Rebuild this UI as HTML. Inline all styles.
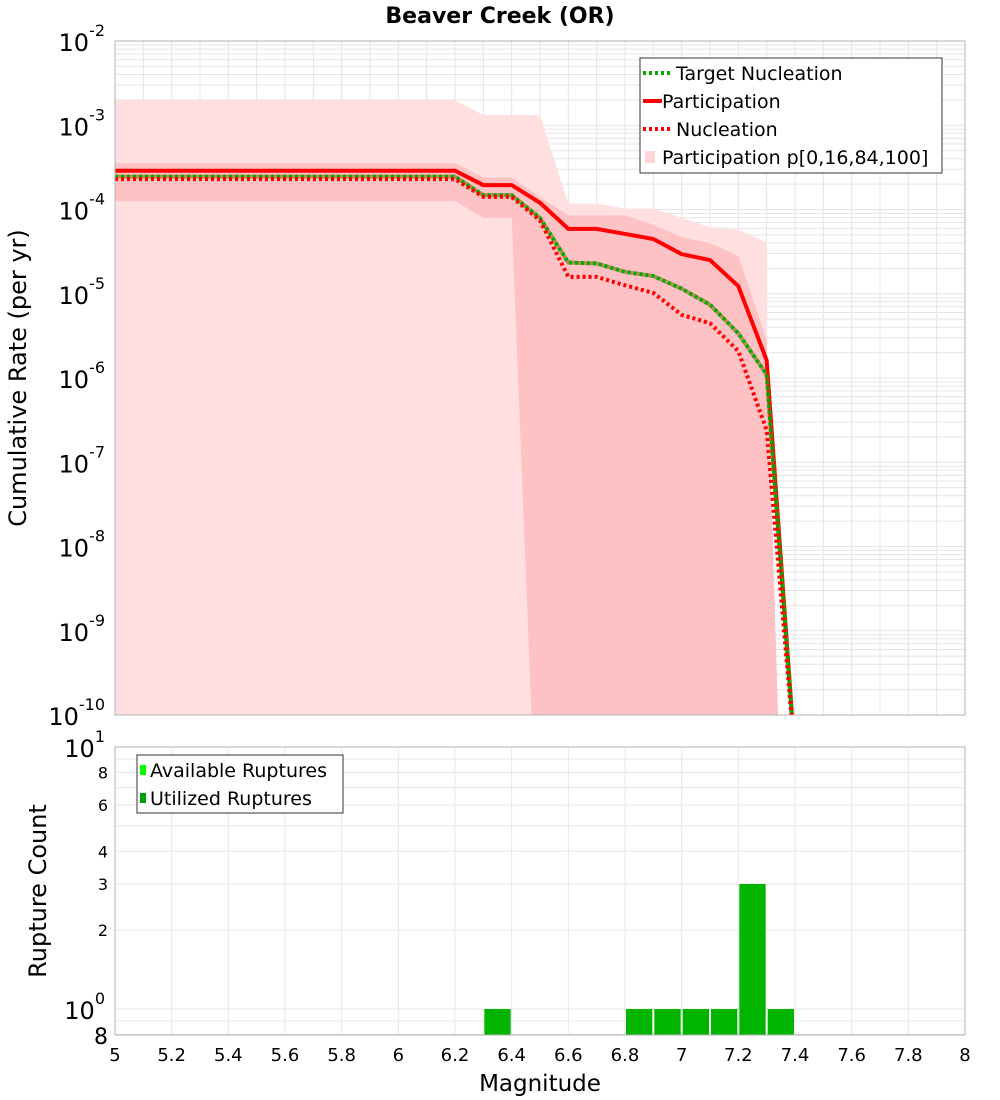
<!DOCTYPE html>
<html><head><meta charset="utf-8"><style>
html,body{margin:0;padding:0;background:#fff;}
svg{display:block;font-family:"DejaVu Sans","Liberation Sans",sans-serif;}
</style></head><body>
<svg id="c" width="1000" height="1100" viewBox="0 0 1000 1100" xmlns="http://www.w3.org/2000/svg">
<text x="500" y="23" text-anchor="middle" font-size="22" font-weight="bold">Beaver Creek (OR)</text>
<g id="topPlot"></g>
<g id="botPlot"></g>
<text transform="translate(26,378) rotate(-90)" text-anchor="middle" font-size="24">Cumulative Rate (per yr)</text>
<text transform="translate(46,891) rotate(-90)" text-anchor="middle" font-size="24">Rupture Count</text>
<text x="540" y="1091" text-anchor="middle" font-size="23">Magnitude</text>
</svg>
<script>
// ---- data (log10 rates) ----
const mags = [5.0,5.1,5.2,5.3,5.4,5.5,5.6,5.7,5.8,5.9,6.0,6.1,6.2,6.3,6.4,6.5,6.6,6.7,6.8,6.9,7.0,7.1,7.2,7.3,7.4];
const participation = [-3.54,-3.54,-3.54,-3.54,-3.54,-3.54,-3.54,-3.54,-3.54,-3.54,-3.54,-3.54,-3.54,-3.71,-3.71,-3.92,-4.23,-4.23,-4.29,-4.35,-4.53,-4.6,-4.91,-5.79,-20];
const targetNucleation = [-3.61,-3.61,-3.61,-3.61,-3.61,-3.61,-3.61,-3.61,-3.61,-3.61,-3.61,-3.61,-3.61,-3.83,-3.83,-4.1,-4.63,-4.64,-4.74,-4.79,-4.94,-5.13,-5.47,-5.96,-20];
const nucleation = [-3.64,-3.64,-3.64,-3.64,-3.64,-3.64,-3.64,-3.64,-3.64,-3.64,-3.64,-3.64,-3.64,-3.85,-3.85,-4.13,-4.8,-4.8,-4.9,-4.99,-5.25,-5.35,-5.68,-6.62,-20];
const bandMags = [5.0,6.2,6.3,6.4,6.5,6.6,6.7,6.8,6.9,7.0,7.1,7.2,7.3,7.3,7.34];
const p100 = [-2.7,-2.7,-2.88,-2.88,-2.88,-3.93,-3.93,-3.99,-3.99,-4.1,-4.21,-4.24,-4.39,-5.55,-10];
const p84 = [-3.45,-3.45,-3.62,-3.62,-3.85,-4.07,-4.07,-4.07,-4.18,-4.33,-4.4,-4.55,-5.55,-5.55,-10];
const p16Mags = [5.0,6.2,6.3,6.4,6.47];
const p16 = [-3.9,-3.9,-4.1,-4.1,-10];
const binCenters = [6.35,6.85,6.95,7.05,7.15,7.25,7.35];
const utilized = [1,1,1,1,1,3,1];
const xTicks = [5,5.2,5.4,5.6,5.8,6,6.2,6.4,6.6,6.8,7,7.2,7.4,7.6,7.8,8];
const yExps = [-2,-3,-4,-5,-6,-7,-8,-9,-10];
const countTicks = [8,6,4,3,2];

const NS="http://www.w3.org/2000/svg";
function mk(tag,attrs,parent){const e=document.createElementNS(NS,tag);for(const k in attrs)e.setAttribute(k,attrs[k]);parent.appendChild(e);return e;}
const L=115,R=965,T1=41,B1=715,T2=747,B2=1035;
const xs=m=>L+(m-5)/3*(R-L);
const ys=v=>T1+(-2-Math.max(v,-10.5))/8*(B1-T1);
const yc=c=>T2+(1-Math.log10(c))*262;
const topG=document.getElementById('topPlot'), botG=document.getElementById('botPlot');
let el;

const defs=mk('defs',{},document.getElementById('c'));
const cp=mk('clipPath',{id:'cp1'},defs); mk('rect',{x:L,y:T1,width:R-L,height:B1-T1},cp);

// top grid
for(let e=-10;e<-2;e++){for(let k=1;k<10;k++){const y=ys(e+Math.log10(k));
 const g=mk('line',{x1:L,x2:R,y1:y,y2:y,stroke:'#e4e4e4','stroke-width':1},topG);
 
 }}
for(let i=1;i<30;i++){const x=xs(5+i*0.1);
 const g=mk('line',{x1:x,x2:x,y1:T1,y2:B1,stroke:'#e4e4e4','stroke-width':1},topG);
 
 }

const pg=mk('g',{'clip-path':'url(#cp1)'},topG);
let pts=bandMags.map((m,i)=>xs(m)+','+ys(p100[i]));
pts.push(xs(bandMags[bandMags.length-1])+','+(B1+5)); pts.push(L+','+(B1+5));
el=mk('polygon',{points:pts.join(' '),fill:'#ffdfe0'},pg);


pts=bandMags.map((m,i)=>xs(m)+','+ys(p84[i]));
for(let i=p16Mags.length-1;i>=0;i--)pts.push(xs(p16Mags[i])+','+ys(p16[i]));
el=mk('polygon',{points:pts.join(' '),fill:'#ffc2c4'},pg);



function line(arr,color,dash,name){const p=mags.map((m,i)=>xs(m)+','+ys(arr[i])).join(' ');
 const a={points:p,fill:'none',stroke:color,'stroke-width':4};if(dash)a['stroke-dasharray']=dash;
 const e=mk('polyline',a,pg);
 
 }
line(participation,'#ff0000',null,'participation-line');
line(targetNucleation,'#00aa00','3,3','target-nucleation-line');
const ov=mk('polyline',{points:mags.map((m,i)=>xs(m)+','+ys(targetNucleation[i])).join(' '),fill:'none',stroke:'#7a6a00','stroke-width':4,'stroke-dasharray':'3,3','stroke-dashoffset':'3',opacity:0.6},pg);


line(nucleation,'#ff0000','3,3','nucleation-line');

el=mk('rect',{x:L,y:T1,width:R-L,height:B1-T1,fill:'none',stroke:'#b0b0b0'},topG);



yExps.forEach(e=>{const y=ys(e);const t=mk('text',{x:105,y:y+10,'text-anchor':'end','font-size':24},topG);
 
 
 t.textContent='10';const s=mk('tspan',{dy:-15,'font-size':16},t);s.textContent=String(e);});

const lg=mk('g',{},topG);


mk('rect',{x:640,y:58,width:302,height:115,fill:'#fff',stroke:'#333'},lg);
const items=[['Target Nucleation','dotg'],['Participation','solid'],['Nucleation','dotr'],['Participation p[0,16,84,100]','band']];
items.forEach((it,i)=>{const y=73+i*28;
 if(it[1]==='solid')mk('line',{x1:643,x2:662,y1:y,y2:y,stroke:'#f00','stroke-width':4},lg);
 else if(it[1]==='band')mk('rect',{x:645,y:y-6,width:10,height:12,fill:'#ffd6d8'},lg);
 else mk('line',{x1:643,x2:672,y1:y,y2:y,stroke:it[1]==='dotg'?'#00aa00':'#f00','stroke-width':4,'stroke-dasharray':'3,3'},lg);
 const t=mk('text',{x:it[1]==='solid'||it[1]==='band'?662:676,y:y+7,'font-size':19},lg);t.textContent=it[0];
 
 });

// bottom grid
for(let e=-1;e<1;e++){for(let k=1;k<10;k++){const y=yc(Math.pow(10,e)*k);if(y<T2||y>B2)continue;
 const g=mk('line',{x1:L,x2:R,y1:y,y2:y,stroke:'#e8e8e8'},botG);
 
 }}
for(let i=1;i<15;i++){const x=xs(5+i*0.2);
 const g=mk('line',{x1:x,x2:x,y1:T2,y2:B2,stroke:'#e8e8e8'},botG);
 
 }
binCenters.forEach((m,i)=>{const x0=xs(m-0.05)+1,x1=xs(m+0.05)-1;
 const b=mk('rect',{x:x0,y:yc(utilized[i]),width:x1-x0,height:B2-yc(utilized[i]),fill:'#00b400'},botG);
 
 });
el=mk('rect',{x:L,y:T2,width:R-L,height:B2-T2,fill:'none',stroke:'#b0b0b0'},botG);


[[10,'1'],[1,'0']].forEach(d=>{const t=mk('text',{x:105,y:yc(d[0])+10,'text-anchor':'end','font-size':24},botG);
 
 
 t.textContent='10';
 const s=mk('tspan',{dy:-15,'font-size':16},t);s.textContent=d[1];});
countTicks.forEach(c=>{const t=mk('text',{x:108,y:yc(c)+6,'text-anchor':'end','font-size':16},botG);
 
 
 t.textContent=String(c);});
el=mk('text',{x:108,y:B2+9,'text-anchor':'end','font-size':22},botG);el.textContent='8';


xTicks.forEach(m=>{const t=mk('text',{x:xs(m),y:1061,'text-anchor':'middle','font-size':18},botG);
 
 
 t.textContent=String(m);});
const lb=mk('g',{},botG);


mk('rect',{x:137,y:755,width:206,height:58,fill:'#fff',stroke:'#333'},lb);
mk('rect',{x:140,y:765,width:6,height:10,fill:'#00ff00'},lb);
mk('rect',{x:140,y:793,width:6,height:10,fill:'#00a000'},lb);
el=mk('text',{x:150,y:777,'font-size':19},lb);el.textContent='Available Ruptures';


el=mk('text',{x:150,y:805,'font-size':19},lb);el.textContent='Utilized Ruptures';


</script>
</body></html>
